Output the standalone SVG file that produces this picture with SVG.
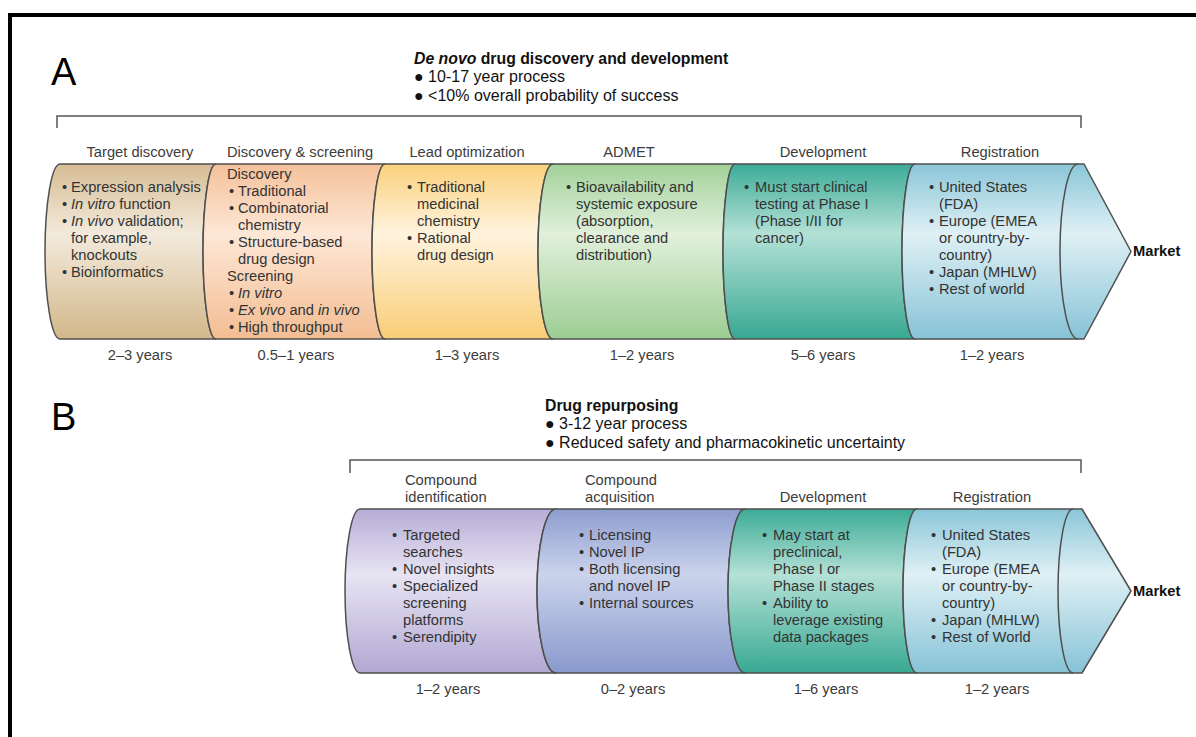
<svg xmlns="http://www.w3.org/2000/svg" width="1196" height="737" viewBox="0 0 1196 737">
<defs>
<linearGradient id="gTan" x1="0" y1="0" x2="0" y2="1"><stop offset="0" stop-color="#d6bd94"/><stop offset="0.4" stop-color="#f3eadc"/><stop offset="1" stop-color="#d2b78a"/></linearGradient>
<linearGradient id="gOrange" x1="0" y1="0" x2="0" y2="1"><stop offset="0" stop-color="#f4c19a"/><stop offset="0.4" stop-color="#fde7d6"/><stop offset="1" stop-color="#f3bd93"/></linearGradient>
<linearGradient id="gYellow" x1="0" y1="0" x2="0" y2="1"><stop offset="0" stop-color="#fbd07c"/><stop offset="0.4" stop-color="#fff3de"/><stop offset="1" stop-color="#f9cd76"/></linearGradient>
<linearGradient id="gGreen" x1="0" y1="0" x2="0" y2="1"><stop offset="0" stop-color="#a2d199"/><stop offset="0.4" stop-color="#e1f0db"/><stop offset="1" stop-color="#9ccd92"/></linearGradient>
<linearGradient id="gTeal" x1="0" y1="0" x2="0" y2="1"><stop offset="0" stop-color="#3cab97"/><stop offset="0.4" stop-color="#b4e1d6"/><stop offset="1" stop-color="#38a893"/></linearGradient>
<linearGradient id="gBlue" x1="0" y1="0" x2="0" y2="1"><stop offset="0" stop-color="#8ac6d8"/><stop offset="0.4" stop-color="#dff0f5"/><stop offset="1" stop-color="#86c3d6"/></linearGradient>
<linearGradient id="gPurple" x1="0" y1="0" x2="0" y2="1"><stop offset="0" stop-color="#b6acd6"/><stop offset="0.4" stop-color="#e7e4f3"/><stop offset="1" stop-color="#b2a8d3"/></linearGradient>
<linearGradient id="gSlate" x1="0" y1="0" x2="0" y2="1"><stop offset="0" stop-color="#8d9dcf"/><stop offset="0.4" stop-color="#cbd3ec"/><stop offset="1" stop-color="#8999cc"/></linearGradient>
</defs>
<style>
.seg{stroke:#4f4f4f;stroke-width:1.5;stroke-linejoin:round}
.edge{fill:none;stroke:#4f4f4f;stroke-width:1.5}
.br{fill:none;stroke:#555;stroke-width:1.5}
text{font-family:"Liberation Sans",Arial,sans-serif}
.big{font-size:38px;fill:#000}
.ttl{font-size:15.8px;font-weight:bold;fill:#111}
.hb{font-size:16px;fill:#111}
.hd{font-size:14.7px;fill:#3c3c3c}
.hdc{font-size:14.7px;fill:#3c3c3c;text-anchor:middle}
.bt{font-size:14.7px;fill:#333}
.yr{font-size:14.7px;fill:#3c3c3c;text-anchor:middle}
.mk{font-size:14.7px;font-weight:bold;fill:#111}
.it{font-style:italic}
</style>
<rect x="0" y="0" width="1196" height="737" fill="#fff"/>
<g id="frame">
<rect x="8" y="13" width="1188" height="4" fill="#000"/>
<rect x="8" y="13" width="4" height="724" fill="#000"/>
</g>

<g id="panelA-title">
<text class="big" x="51" y="85">A</text>
<text class="ttl" x="414" y="64"><tspan class="it">De novo</tspan> drug discovery and development</text>
<text class="hb" x="414" y="82">● 10-17 year process</text>
<text class="hb" x="414" y="101">● &lt;10% overall probability of success</text>
</g>

<g id="brackets">
<path class="br" d="M57,128 V116 H1081 V128"/>
<path class="br" d="M350,473 V460 H1081 V473"/>
</g>

<g id="a-headers">
<text class="hdc" x="140" y="157">Target discovery</text>
<text class="hdc" x="300" y="157">Discovery &amp; screening</text>
<text class="hdc" x="467" y="157">Lead optimization</text>
<text class="hdc" x="629" y="157">ADMET</text>
<text class="hdc" x="823" y="157">Development</text>
<text class="hdc" x="1000" y="157">Registration</text>
</g>

<g id="a-target">
<path class="seg" fill="url(#gTan)" d="M60,164 L216,164 A13,87.5 0 0 0 216,339 L60,339 A15,87.5 0 0 1 60,164 Z"/>
<text class="bt"><tspan x="62" y="192">•</tspan><tspan x="71">Expression analysis</tspan>
<tspan x="62" y="209">•</tspan><tspan x="71" class="it">In vitro</tspan><tspan> function</tspan>
<tspan x="62" y="226">•</tspan><tspan x="71" class="it">In vivo</tspan><tspan> validation;</tspan>
<tspan x="71" y="243">for example,</tspan>
<tspan x="71" y="260">knockouts</tspan>
<tspan x="62" y="277">•</tspan><tspan x="71">Bioinformatics</tspan></text>
<text class="yr" x="140" y="360">2–3 years</text>
</g>

<g id="a-discovery">
<path class="seg" fill="url(#gOrange)" d="M216,164 L385,164 A13,87.5 0 0 0 385,339 L216,339 A13,87.5 0 0 1 216,164 Z"/>
<text class="bt"><tspan x="227" y="179">Discovery</tspan>
<tspan x="229" y="196">•</tspan><tspan x="238">Traditional</tspan>
<tspan x="229" y="213">•</tspan><tspan x="238">Combinatorial</tspan>
<tspan x="238" y="230">chemistry</tspan>
<tspan x="229" y="247">•</tspan><tspan x="238">Structure-based</tspan>
<tspan x="238" y="264">drug design</tspan>
<tspan x="227" y="281">Screening</tspan>
<tspan x="229" y="298">•</tspan><tspan x="238" class="it">In vitro</tspan>
<tspan x="229" y="315">•</tspan><tspan x="238" class="it">Ex vivo</tspan><tspan> and </tspan><tspan class="it">in vivo</tspan>
<tspan x="229" y="332">•</tspan><tspan x="238">High throughput</tspan></text>
<text class="yr" x="296" y="360">0.5–1 years</text>
</g>

<g id="a-lead">
<path class="seg" fill="url(#gYellow)" d="M385,164 L553,164 A15,87.5 0 0 0 553,339 L385,339 A13,87.5 0 0 1 385,164 Z"/>
<text class="bt"><tspan x="407" y="192">•</tspan><tspan x="417">Traditional</tspan>
<tspan x="417" y="209">medicinal</tspan>
<tspan x="417" y="226">chemistry</tspan>
<tspan x="407" y="243">•</tspan><tspan x="417">Rational</tspan>
<tspan x="417" y="260">drug design</tspan></text>
<text class="yr" x="467" y="360">1–3 years</text>
</g>

<g id="a-admet">
<path class="seg" fill="url(#gGreen)" d="M553,164 L735,164 A12,87.5 0 0 0 735,339 L553,339 A15,87.5 0 0 1 553,164 Z"/>
<text class="bt"><tspan x="566" y="192">•</tspan><tspan x="576">Bioavailability and</tspan>
<tspan x="576" y="209">systemic exposure</tspan>
<tspan x="576" y="226">(absorption,</tspan>
<tspan x="576" y="243">clearance and</tspan>
<tspan x="576" y="260">distribution)</tspan></text>
<text class="yr" x="642" y="360">1–2 years</text>
</g>

<g id="a-development">
<path class="seg" fill="url(#gTeal)" d="M735,164 L915,164 A13,87.5 0 0 0 915,339 L735,339 A12,87.5 0 0 1 735,164 Z"/>
<text class="bt"><tspan x="744" y="192">•</tspan><tspan x="755">Must start clinical</tspan>
<tspan x="755" y="209">testing at Phase I</tspan>
<tspan x="755" y="226">(Phase I/II for</tspan>
<tspan x="755" y="243">cancer)</tspan></text>
<text class="yr" x="823" y="360">5–6 years</text>
</g>

<g id="a-registration">
<path class="seg" fill="url(#gBlue)" d="M915,164 L1084,164 L1131,251.5 L1084,339 L915,339 A13,87.5 0 0 1 915,164 Z"/>
<path class="edge" d="M1078,164 A18,87.5 0 0 0 1078,339"/>
<text class="bt"><tspan x="929" y="192">•</tspan><tspan x="939">United States</tspan>
<tspan x="939" y="209">(FDA)</tspan>
<tspan x="929" y="226">•</tspan><tspan x="939">Europe (EMEA</tspan>
<tspan x="939" y="243">or country-by-</tspan>
<tspan x="939" y="260">country)</tspan>
<tspan x="929" y="277">•</tspan><tspan x="939">Japan (MHLW)</tspan>
<tspan x="929" y="294">•</tspan><tspan x="939">Rest of world</tspan></text>
<text class="yr" x="992" y="360">1–2 years</text>
</g>

<g id="a-market">
<text class="mk" x="1133" y="256">Market</text>
</g>

<g id="panelB-title">
<text class="big" x="51" y="430">B</text>
<text class="ttl" x="545" y="411">Drug repurposing</text>
<text class="hb" x="545" y="429">● 3-12 year process</text>
<text class="hb" x="545" y="448">● Reduced safety and pharmacokinetic uncertainty</text>
</g>

<g id="b-headers">
<text class="hd"><tspan x="405" y="485">Compound</tspan><tspan x="405" y="502">identification</tspan></text>
<text class="hd"><tspan x="585" y="485">Compound</tspan><tspan x="585" y="502">acquisition</tspan></text>
<text class="hdc" x="823" y="502">Development</text>
<text class="hdc" x="992" y="502">Registration</text>
</g>

<g id="b-identification">
<path class="seg" fill="url(#gPurple)" d="M360,509 L556,509 A19,82 0 0 0 556,673 L360,673 A15,82 0 0 1 360,509 Z"/>
<text class="bt"><tspan x="392" y="540">•</tspan><tspan x="403">Targeted</tspan>
<tspan x="403" y="557">searches</tspan>
<tspan x="392" y="574">•</tspan><tspan x="403">Novel insights</tspan>
<tspan x="392" y="591">•</tspan><tspan x="403">Specialized</tspan>
<tspan x="403" y="608">screening</tspan>
<tspan x="403" y="625">platforms</tspan>
<tspan x="392" y="642">•</tspan><tspan x="403">Serendipity</tspan></text>
<text class="yr" x="448" y="694">1–2 years</text>
</g>

<g id="b-acquisition">
<path class="seg" fill="url(#gSlate)" d="M556,509 L745,509 A17,82 0 0 0 745,673 L556,673 A19,82 0 0 1 556,509 Z"/>
<text class="bt"><tspan x="579" y="540">•</tspan><tspan x="589">Licensing</tspan>
<tspan x="579" y="557">•</tspan><tspan x="589">Novel IP</tspan>
<tspan x="579" y="574">•</tspan><tspan x="589">Both licensing</tspan>
<tspan x="589" y="591">and novel IP</tspan>
<tspan x="579" y="608">•</tspan><tspan x="589">Internal sources</tspan></text>
<text class="yr" x="633" y="694">0–2 years</text>
</g>

<g id="b-development">
<path class="seg" fill="url(#gTeal)" d="M745,509 L917,509 A14,82 0 0 0 917,673 L745,673 A17,82 0 0 1 745,509 Z"/>
<text class="bt"><tspan x="762" y="540">•</tspan><tspan x="773">May start at</tspan>
<tspan x="773" y="557">preclinical,</tspan>
<tspan x="773" y="574">Phase I or</tspan>
<tspan x="773" y="591">Phase II stages</tspan>
<tspan x="762" y="608">•</tspan><tspan x="773">Ability to</tspan>
<tspan x="773" y="625">leverage existing</tspan>
<tspan x="773" y="642">data packages</tspan></text>
<text class="yr" x="826" y="694">1–6 years</text>
</g>

<g id="b-registration">
<path class="seg" fill="url(#gBlue)" d="M917,509 L1082,509 L1131,591 L1082,673 L917,673 A14,82 0 0 1 917,509 Z"/>
<path class="edge" d="M1073,509 A15,82 0 0 0 1073,673"/>
<text class="bt"><tspan x="931" y="540">•</tspan><tspan x="942">United States</tspan>
<tspan x="942" y="557">(FDA)</tspan>
<tspan x="931" y="574">•</tspan><tspan x="942">Europe (EMEA</tspan>
<tspan x="942" y="591">or country-by-</tspan>
<tspan x="942" y="608">country)</tspan>
<tspan x="931" y="625">•</tspan><tspan x="942">Japan (MHLW)</tspan>
<tspan x="931" y="642">•</tspan><tspan x="942">Rest of World</tspan></text>
<text class="yr" x="997" y="694">1–2 years</text>
</g>

<g id="b-market">
<text class="mk" x="1133" y="596">Market</text>
</g>
</svg>
